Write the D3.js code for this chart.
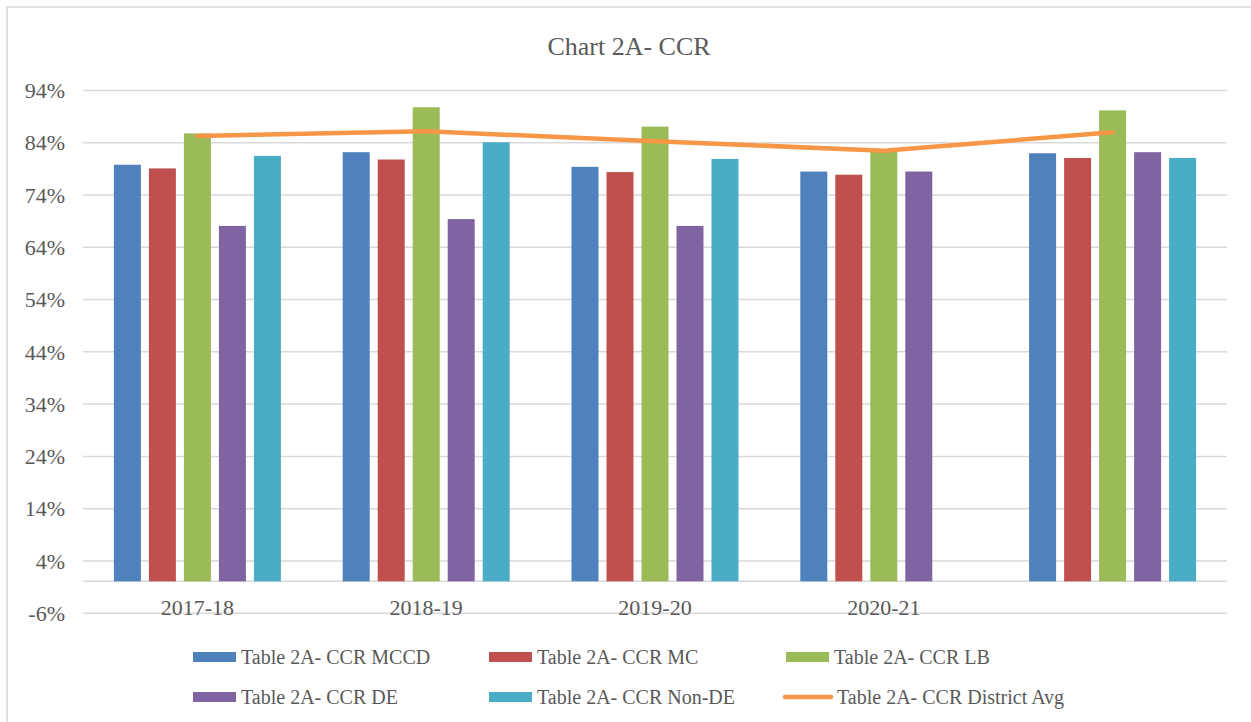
<!DOCTYPE html>
<html>
<head>
<meta charset="utf-8">
<script src="https://cdn.jsdelivr.net/npm/d3@7"></script>
<style>
  html, body { margin: 0; padding: 0; background: #fff; }
  text { font-family: "Liberation Serif", "DejaVu Serif", serif; fill: #595959; }
</style>
</head>
<body>
<svg id="chart" width="1251" height="722"></svg>
<script>
// categories and series (percent)
var years = ["2017-18", "2018-19", "2019-20", "2020-21", ""];
var seriesNames = ["Table 2A- CCR MCCD", "Table 2A- CCR MC", "Table 2A- CCR LB", "Table 2A- CCR DE", "Table 2A- CCR Non-DE"];
var mccd = [79.7, 82.1, 79.3, 78.4, 81.9];
var mc = [79.0, 80.7, 78.3, 77.8, 81.0];
var lb = [85.7, 90.7, 87.0, 82.6, 90.1];
var de = [68.0, 69.3, 68.0, 78.4, 82.1];
var nonDe = [81.4, 84.0, 80.8, null, 81.0];
var districtAvg = [85.2, 86.1, 84.2, 82.4, 85.9];
var avgName = "Table 2A- CCR District Avg";
var yTicks = [-6, 4, 14, 24, 34, 44, 54, 64, 74, 84, 94];

var colors = ["#4F81BD", "#C0504D", "#9BBB59", "#8064A2", "#4BACC6"];
var lineColor = "#F79646";
var gridColor = "#d9d9d9";

var svg = d3.select("#chart");

// outer chart border
svg.append("rect")
  .attr("x", 7).attr("y", 7)
  .attr("width", 1260).attr("height", 730)
  .attr("fill", "none")
  .attr("stroke", gridColor)
  .attr("stroke-width", 1.5);

svg.append("text")
  .attr("x", 629).attr("y", 55)
  .attr("text-anchor", "middle")
  .style("font-size", "26px")
  .text("Chart 2A- CCR");

var left = 83, right = 1227;
var y = d3.scaleLinear().domain([-6, 94]).range([612.7, 90]);
var x0 = d3.scaleBand().domain(d3.range(years.length)).range([left, right]);
var x1 = d3.scaleBand().domain(d3.range(seriesNames.length))
  .range([0, x0.bandwidth()])
  .paddingInner(0.2286)
  .paddingOuter(0.883);

// gridlines + tick labels
var yAxis = d3.axisLeft(y)
  .tickValues(yTicks)
  .tickSize(-(right - left))
  .tickFormat(function(d) { return d + "%"; });

var axisG = svg.append("g")
  .attr("transform", "translate(" + left + ",0)")
  .call(yAxis);
axisG.select(".domain").remove();
axisG.selectAll(".tick line").attr("stroke", gridColor).attr("stroke-width", 1.5);
axisG.selectAll(".tick text")
  .attr("x", -18)
  .attr("dy", "0.35em")
  .style("font-size", "22px")
  .attr("fill", "#595959")
  .attr("font-family", null);

// horizontal axis at zero
svg.append("line")
  .attr("x1", left).attr("x2", right)
  .attr("y1", y(0)).attr("y2", y(0))
  .attr("stroke", gridColor)
  .attr("stroke-width", 1.5);

// bars
var allSeries = [mccd, mc, lb, de, nonDe];
var groups = svg.append("g").selectAll("g")
  .data(years)
  .enter().append("g")
  .attr("transform", function(d, i) { return "translate(" + x0(i) + ",0)"; });

groups.selectAll("rect")
  .data(function(d, i) {
    return allSeries.map(function(s, j) { return { s: j, v: s[i] }; })
      .filter(function(e) { return e.v != null; });
  })
  .enter().append("rect")
  .attr("x", function(d) { return x1(d.s); })
  .attr("width", x1.bandwidth())
  .attr("y", function(d) { return y(d.v); })
  .attr("height", function(d) { return y(0) - y(d.v); })
  .attr("fill", function(d) { return colors[d.s]; });

// category labels sit at the bottom gridline
svg.append("g").selectAll("text")
  .data(years)
  .enter().append("text")
  .attr("x", function(d, i) { return x0(i) + x0.bandwidth() / 2; })
  .attr("y", 615)
  .attr("text-anchor", "middle")
  .style("font-size", "22px")
  .text(function(d) { return d; });

// district average line
var line = d3.line()
  .x(function(d, i) { return x0(i) + x0.bandwidth() / 2; })
  .y(function(d) { return y(d); });

svg.append("path")
  .datum(districtAvg)
  .attr("d", line)
  .attr("fill", "none")
  .attr("stroke", lineColor)
  .attr("stroke-width", 4.5)
  .attr("stroke-linejoin", "round")
  .attr("stroke-linecap", "round");

// legend
var legendPos = [[193, 657], [489, 657], [786, 657], [193, 697], [489, 697], [783, 697]];
var legendItems = seriesNames.map(function(n, i) { return { name: n, color: colors[i], type: "bar" }; });
legendItems.push({ name: avgName, color: lineColor, type: "line" });

var leg = svg.append("g").selectAll("g")
  .data(legendItems)
  .enter().append("g")
  .attr("transform", function(d, i) { return "translate(" + legendPos[i][0] + "," + legendPos[i][1] + ")"; });

leg.filter(function(d) { return d.type == "bar"; })
  .append("rect")
  .attr("x", 0).attr("y", -5)
  .attr("width", 43).attr("height", 10)
  .attr("fill", function(d) { return d.color; });

leg.filter(function(d) { return d.type == "line"; })
  .append("line")
  .attr("x1", 2).attr("x2", 48)
  .attr("y1", 0).attr("y2", 0)
  .attr("stroke", function(d) { return d.color; })
  .attr("stroke-width", 4.5)
  .attr("stroke-linecap", "round");

leg.append("text")
  .attr("x", function(d) { return d.type == "line" ? 54 : 48; })
  .attr("y", 7)
  .style("font-size", "20px")
  .text(function(d) { return d.name; });
</script>
</body>
</html>
